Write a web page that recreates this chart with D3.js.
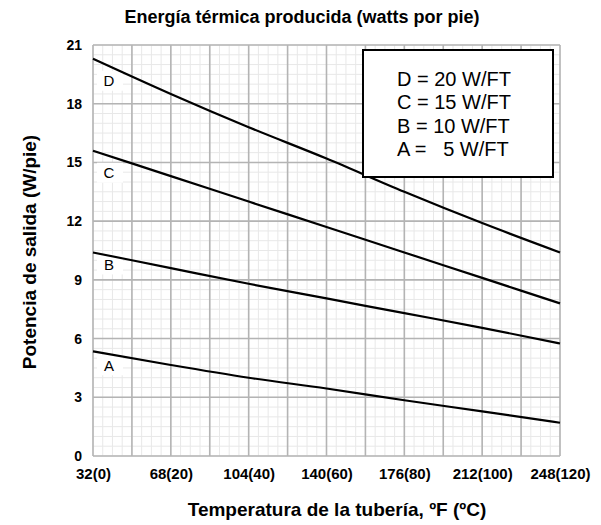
<!doctype html>
<html>
<head>
<meta charset="utf-8">
<title>Energía térmica producida</title>
<script src="https://d3js.org/d3.v7.min.js"></script>
<style>
  body { margin: 0; background: #fff; }
  text { font-family: Arial, "Liberation Sans", sans-serif; }
</style>
</head>
<body>
<div id="chart"></div>
<script>
// temperature in ºF along the x axis
var temps = [32, 68, 104, 140, 176, 212, 248];
var tickLabels = ["32(0)", "68(20)", "104(40)", "140(60)", "176(80)", "212(100)", "248(120)"];
var yTicks = [0, 3, 6, 9, 12, 15, 18, 21];

// output (W/pie) read at each temperature
var seriesD = [20.3, 18.5, 16.8, 15.2, 13.5, 11.9, 10.4];
var seriesC = [15.6, 14.3, 13.0, 11.7, 10.4, 9.1, 7.8];
var seriesB = [10.4, 9.6, 8.8, 8.05, 7.3, 6.55, 5.75];
var seriesA = [5.35, 4.65, 4.0, 3.45, 2.85, 2.28, 1.7];
var seriesNames = ["D", "C", "B", "A"];
var legendLines = ["D = 20 W/FT", "C = 15 W/FT", "B = 10 W/FT", "A =   5 W/FT"];

var width = 601, height = 525;
var margin = {top: 45, right: 41, bottom: 69, left: 93};
var w = width - margin.left - margin.right;
var h = height - margin.top - margin.bottom;

var svg = d3.select("#chart").append("svg")
    .attr("width", width)
    .attr("height", height);

var g = svg.append("g")
    .attr("transform", "translate(" + margin.left + "," + margin.top + ")");

var x = d3.scaleLinear().domain([32, 248]).range([0, w]);
var y = d3.scaleLinear().domain([0, 21]).range([h, 0]);

// minor grid
var minorX = d3.range(32, 248.01, 4.5);
var minorY = d3.range(0, 21.01, 0.5);
g.append("g").selectAll("line").data(minorX).enter().append("line")
    .attr("x1", function(d){ return x(d); }).attr("x2", function(d){ return x(d); })
    .attr("y1", 0).attr("y2", h)
    .attr("stroke", "#e8e8e8").attr("stroke-width", 1);
g.append("g").selectAll("line").data(minorY).enter().append("line")
    .attr("y1", function(d){ return y(d); }).attr("y2", function(d){ return y(d); })
    .attr("x1", 0).attr("x2", w)
    .attr("stroke", "#e8e8e8").attr("stroke-width", 1);

// major grid
var majorX = d3.range(32, 248.01, 18);
g.append("g").selectAll("line").data(majorX).enter().append("line")
    .attr("x1", function(d){ return x(d); }).attr("x2", function(d){ return x(d); })
    .attr("y1", 0).attr("y2", h)
    .attr("stroke", "#b4b4b4").attr("stroke-width", 1.6);
g.append("g").selectAll("line").data(yTicks).enter().append("line")
    .attr("y1", function(d){ return y(d); }).attr("y2", function(d){ return y(d); })
    .attr("x1", 0).attr("x2", w)
    .attr("stroke", "#b4b4b4").attr("stroke-width", 1.6);

// axes (labels only)
var xAxis = d3.axisBottom(x).tickValues(temps)
    .tickFormat(function(d, i){ return tickLabels[i]; })
    .tickSize(0).tickPadding(12);
var xg = g.append("g").attr("transform", "translate(0," + h + ")").call(xAxis);
xg.select(".domain").remove();
xg.selectAll("text").attr("font-size", 15).attr("font-weight", "bold")
    .attr("font-family", "Arial").attr("fill", "#000");

var yAxis = d3.axisLeft(y).tickValues(yTicks).tickSize(0).tickPadding(11);
var yg = g.append("g").call(yAxis);
yg.select(".domain").remove();
yg.selectAll("text").attr("font-size", 14).attr("font-weight", "bold")
    .attr("font-family", "Arial").attr("fill", "#000");

var allSeries = [seriesD, seriesC, seriesB, seriesA];

// letter tags under the start of each line (drawn first, lines go on top)
var tagDy = [22, 22, 12, 14];
var tags = g.append("g").selectAll("g").data(seriesNames).enter().append("g")
    .attr("transform", function(d, i){
        return "translate(" + (x(32) + 16) + "," + (y(allSeries[i][0]) + tagDy[i]) + ")";
    });
tags.append("rect")
    .attr("x", -12).attr("y", -10).attr("width", 26).attr("height", 20)
    .attr("fill", "#fff");
tags.append("text")
    .attr("text-anchor", "middle").attr("dy", "0.36em")
    .attr("font-size", 15).attr("fill", "#000")
    .text(function(d){ return d; });

// curves
var line = d3.line()
    .x(function(d, i){ return x(temps[i]); })
    .y(function(d){ return y(d); })
    .curve(d3.curveMonotoneX);

g.append("g").selectAll("path").data(allSeries).enter().append("path")
    .attr("d", line)
    .attr("fill", "none")
    .attr("stroke", "#000")
    .attr("stroke-width", 2.2);

// legend box
var lg = svg.append("g").attr("transform", "translate(363,50)");
lg.append("rect")
    .attr("width", 190).attr("height", 127)
    .attr("fill", "#fff").attr("stroke", "#000").attr("stroke-width", 2);
lg.selectAll("text").data(legendLines).enter().append("text")
    .attr("x", 34)
    .attr("y", function(d, i){ return 36 + i * 23.3; })
    .attr("font-size", 20)
    .attr("fill", "#000")
    .style("white-space", "pre")
    .text(function(d){ return d; });

// titles
svg.append("text")
    .attr("x", 302).attr("y", 23)
    .attr("text-anchor", "middle")
    .attr("font-size", 18).attr("font-weight", "bold")
    .text("Energía térmica producida (watts por pie)");

svg.append("text")
    .attr("x", 337).attr("y", 516)
    .attr("text-anchor", "middle")
    .attr("font-size", 19).attr("font-weight", "bold")
    .text("Temperatura de la tubería, ºF (ºC)");

svg.append("text")
    .attr("transform", "translate(36,252) rotate(-90)")
    .attr("text-anchor", "middle")
    .attr("font-size", 19).attr("font-weight", "bold")
    .text("Potencia de salida (W/pie)");
</script>
</body>
</html>
